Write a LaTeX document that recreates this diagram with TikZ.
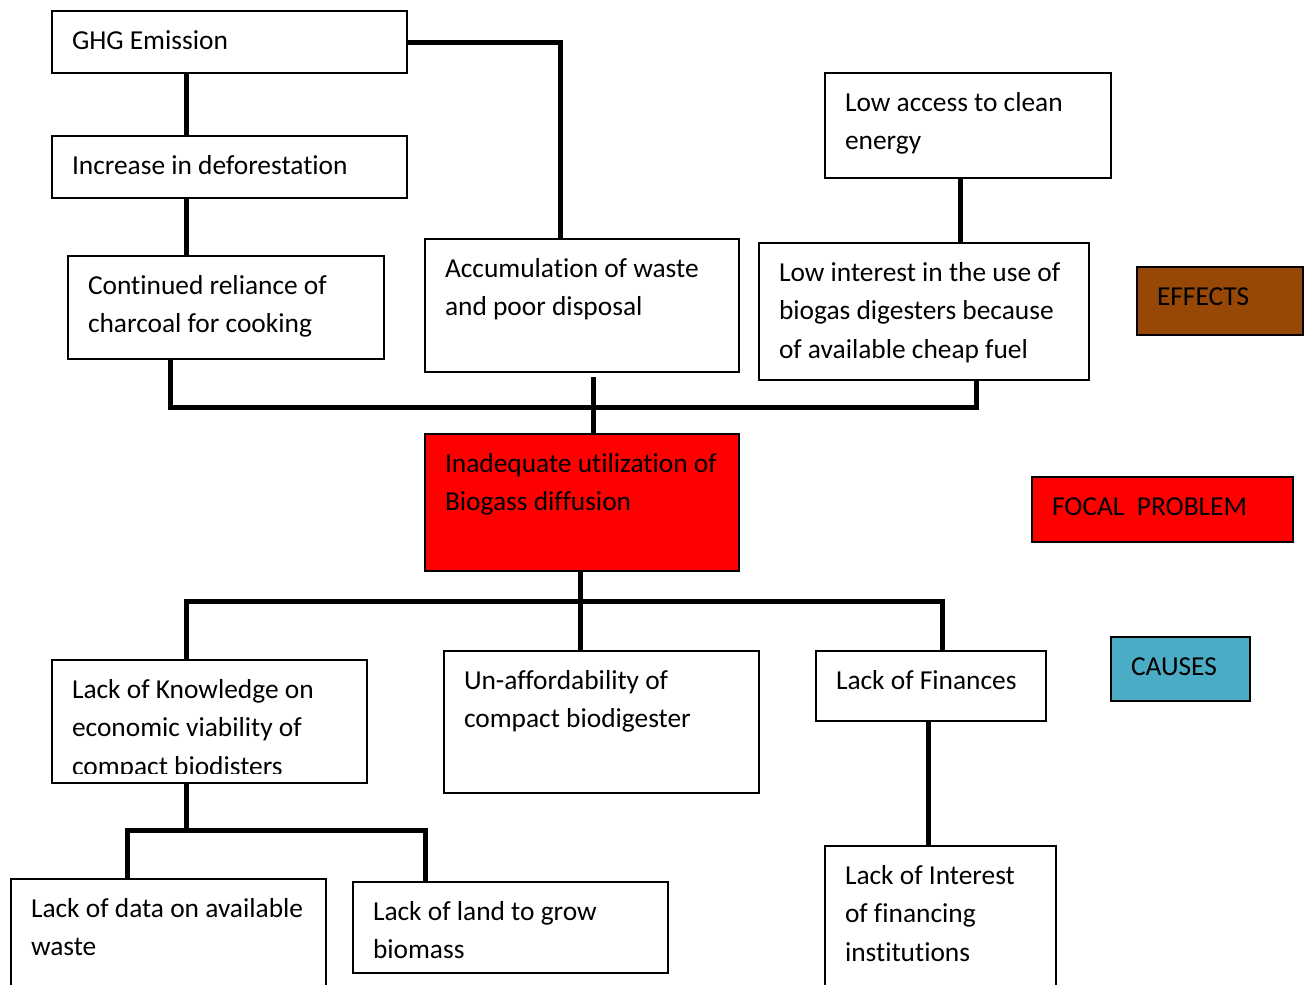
\documentclass[tikz,border=0pt]{standalone}
\usepackage{fontspec}
\setmainfont{Carlito}[Ligatures=NoCommon]
\usetikzlibrary{calc}
\definecolor{effectbrown}{HTML}{974806}
\definecolor{focalred}{HTML}{FF0000}
\definecolor{causeblue}{HTML}{4BACC6}

\begin{document}
\begin{tikzpicture}[x=1pt,y=-1pt,
  box/.style={draw=black, line width=1.8pt, anchor=north west, inner sep=0pt, outer sep=0pt},
  txt/.style={anchor=base west, inner sep=0pt, outer sep=0pt, text width=420pt, align=flush left,
    font=\fontsize{27.4}{38.8}\selectfont},
  conn/.style={line width=5pt, line join=miter}]

\useasboundingbox (0,0) rectangle (1310,985);
\clip (0,0) rectangle (1310,985);
\fill[white] (0,0) rectangle (1310,985);

% effect boxes
\node[box, minimum width=355, minimum height=62] (ghg) at (52,11) {};
\node[box, minimum width=355, minimum height=62] (incr) at (52,136) {};
\node[box, minimum width=316, minimum height=103] (cont) at (68,256) {};
\node[box, minimum width=314, minimum height=133] (accu) at (425,239) {};
\node[box, minimum width=286, minimum height=105] (lowacc) at (825,73) {};
\node[box, minimum width=330, minimum height=137] (lowint) at (759,243) {};

% focal problem
\node[box, fill=focalred, minimum width=314, minimum height=137] (focal) at (425,434) {};

% cause boxes
\node[box, minimum width=315, minimum height=123] (knw) at (52,660) {};
\node[box, minimum width=315, minimum height=142] (unaff) at (444,651) {};
\node[box, minimum width=230, minimum height=70] (fin) at (816,651) {};
\node[box, minimum width=315, minimum height=140] (data) at (11,879) {};
\node[box, minimum width=315, minimum height=91] (land) at (353,882) {};
\node[box, minimum width=231, minimum height=150] (intr) at (825,846) {};

% legend
\node[box, fill=effectbrown, minimum width=166, minimum height=68] (legeff) at (1137,267) {};
\node[box, fill=focalred, minimum width=261, minimum height=65] (legfoc) at (1032,477) {};
\node[box, fill=causeblue, minimum width=139, minimum height=64] (legcau) at (1111,637) {};

% texts
\node[txt] (ghgT) at ($(ghg.north west)+(20,38)$) {GHG Emission};
\node[txt] (incrT) at ($(incr.north west)+(20,38)$) {Increase in deforestation};
\node[txt] (contT) at ($(cont.north west)+(20,38)$) {Continued reliance of\\charcoal for cooking};
\node[txt] (accuT) at ($(accu.north west)+(20,38)$) {Accumulation of waste\\and poor disposal};
\node[txt] (lowaccT) at ($(lowacc.north west)+(20,38)$) {Low access to clean\\energy};
\node[txt] (lowintT) at ($(lowint.north west)+(20,38)$) {Low interest in the use of\\biogas digesters because\\of available cheap fuel};
\node[txt] (focalT) at ($(focal.north west)+(20,38)$) {Inadequate utilization of\\Biogass diffusion};
\begin{scope}
  \clip (knw.north west) rectangle ($(knw.south east)+(0,-10)$);
  \node[txt] (knwT) at ($(knw.north west)+(20,38)$) {Lack of Knowledge on\\economic viability of\\compact biodisters};
\end{scope}
\node[txt] (unaffT) at ($(unaff.north west)+(20,38)$) {Un-affordability of\\compact biodigester};
\node[txt] (finT) at ($(fin.north west)+(20,38)$) {Lack of Finances};
\node[txt] (dataT) at ($(data.north west)+(20,38)$) {Lack of data on available\\waste};
\node[txt] (landT) at ($(land.north west)+(20,38)$) {Lack of land to grow\\biomass};
\node[txt] (intrT) at ($(intr.north west)+(20,38)$) {Lack of Interest\\of financing\\institutions};
\node[txt] (legeffT) at ($(legeff.north west)+(20,38)$) {EFFECTS};
\node[txt] (legfocT) at ($(legfoc.north west)+(20,38)$) {FOCAL\ \ PROBLEM};
\node[txt] (legcauT) at ($(legcau.north west)+(20,38)$) {CAUSES};

% connector columns and bus rows
\coordinate (xL) at (186,0);
\coordinate (xG) at (560,0);
\coordinate (xE) at (960,0);
\coordinate (xC) at (170,0);
\coordinate (xR) at (976,0);
\coordinate (xM) at (593,0);
\coordinate (xF) at (580,0);
\coordinate (xK) at (942,0);
\coordinate (xI) at (928,0);
\coordinate (xD) at (127,0);
\coordinate (xN) at (425,0);
\coordinate (yTop) at (0,407);
\coordinate (yMid) at (0,601);
\coordinate (yLow) at (0,830);

% effect tree
\draw[conn] (ghg.south -| xL) -- (incr.north -| xL);
\draw[conn] (incr.south -| xL) -- (cont.north -| xL);
\draw[conn] (ghg.east) -- (ghg.east -| xG) -- (accu.north -| xG);
\draw[conn] (lowacc.south -| xE) -- (lowint.north -| xE);
\draw[conn] (cont.south -| xC) -- (yTop -| xC) -- (yTop -| xR) -- (lowint.south -| xR);
\draw[conn] ($(accu.south -| xM)+(0,5)$) -- (focal.north -| xM);

% cause tree
\draw[conn] (focal.south -| xF) -- (unaff.north -| xF);
\draw[conn] (knw.north -| xL) -- (yMid -| xL) -- (yMid -| xK) -- (fin.north -| xK);
\draw[conn] (fin.south -| xI) -- (intr.north -| xI);
\draw[conn] (knw.south -| xL) -- (yLow -| xL);
\draw[conn] (data.north -| xD) -- (yLow -| xD) -- (yLow -| xN) -- (land.north -| xN);
\end{tikzpicture}
\end{document}
